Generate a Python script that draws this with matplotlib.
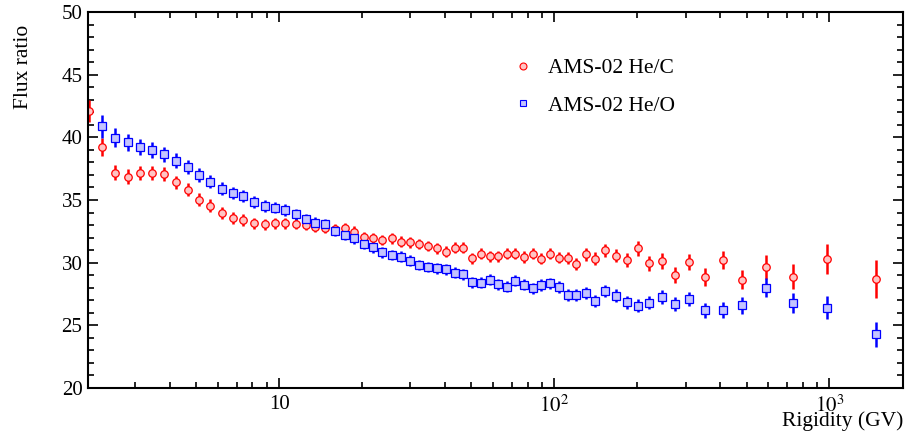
import matplotlib
matplotlib.use("Agg")
import matplotlib.pyplot as plt
from matplotlib.lines import Line2D
from matplotlib.ticker import LogLocator, MultipleLocator, NullFormatter

plt.rcParams["font.family"] = ["Liberation Serif", "DejaVu Serif"]
plt.rcParams["mathtext.fontset"] = "stix"

# rigidity bin centres (GV)
rigidity = [
    2.03, 2.27, 2.53, 2.82, 3.13, 3.46, 3.83, 4.22, 4.65, 5.12,
    5.63, 6.18, 6.77, 7.42, 8.11, 8.86, 9.67, 10.54, 11.49, 12.49,
    13.54, 14.69, 15.94, 17.29, 18.73, 20.28, 21.93, 23.73, 25.68, 27.73,
    29.93, 32.28, 34.78, 37.47, 40.37, 43.47, 46.77, 50.32, 54.12, 58.16,
    62.51, 67.21, 72.25, 77.65, 83.45, 89.69, 96.44, 103.9, 111.9, 120.4,
    129.9, 140.9, 153.4, 167.3, 183.3, 201.3, 221.7, 245.7, 274.5, 309.9,
    353.7, 408.8, 481.2, 586.0, 734.0, 981.0, 1471.0,
]

he_c = [
    42.10, 39.25, 37.18, 36.86, 37.15, 37.18, 37.10, 36.41, 35.82, 35.02,
    34.55, 33.99, 33.56, 33.40, 33.14, 33.06, 33.14, 33.14, 33.11, 33.01,
    32.87, 32.79, 32.66, 32.74, 32.47, 32.05, 31.94, 31.81, 31.94, 31.67,
    31.62, 31.49, 31.33, 31.15, 30.88, 31.20, 31.20, 30.35, 30.72, 30.51,
    30.51, 30.72, 30.72, 30.45, 30.72, 30.32, 30.72, 30.40, 30.40, 29.87,
    30.66, 30.32, 30.98, 30.56, 30.21, 31.14, 29.95, 30.13, 29.04, 30.05,
    28.86, 30.24, 28.62, 29.65, 28.86, 30.29, 28.70,
]
he_c_err = [
    0.85, 0.70, 0.62, 0.60, 0.58, 0.56, 0.55, 0.53, 0.52, 0.50,
    0.50, 0.48, 0.47, 0.46, 0.45, 0.45, 0.44, 0.44, 0.44, 0.44,
    0.44, 0.43, 0.43, 0.43, 0.43, 0.43, 0.43, 0.43, 0.43, 0.43,
    0.43, 0.43, 0.43, 0.43, 0.43, 0.43, 0.43, 0.43, 0.44, 0.44,
    0.44, 0.44, 0.44, 0.45, 0.45, 0.45, 0.46, 0.46, 0.47, 0.48,
    0.49, 0.50, 0.52, 0.53, 0.55, 0.57, 0.60, 0.62, 0.63, 0.66,
    0.69, 0.72, 0.76, 0.95, 1.00, 1.22, 1.52,
]

# He/O starts one bin higher
rigidity_o = rigidity[1:]
he_o = [
    40.88, 39.97, 39.60, 39.25, 39.01, 38.65, 38.14, 37.63, 37.00, 36.46,
    35.90, 35.53, 35.34, 34.86, 34.52, 34.39, 34.20, 33.86, 33.48, 33.19,
    33.06, 32.53, 32.21, 31.94, 31.49, 31.23, 30.83, 30.61, 30.48, 30.16,
    29.81, 29.65, 29.55, 29.47, 29.20, 29.07, 28.43, 28.40, 28.64, 28.27,
    28.06, 28.56, 28.22, 27.96, 28.22, 28.35, 28.06, 27.42, 27.42, 27.60,
    26.94, 27.74, 27.37, 26.84, 26.57, 26.81, 27.23, 26.68, 27.10, 26.20,
    26.25, 26.60, 28.00, 26.76, 26.41, 24.28,
]
he_o_err = [
    0.90, 0.76, 0.70, 0.65, 0.62, 0.60, 0.58, 0.56, 0.54, 0.52,
    0.50, 0.49, 0.48, 0.47, 0.46, 0.45, 0.45, 0.44, 0.44, 0.44,
    0.44, 0.43, 0.43, 0.43, 0.43, 0.43, 0.43, 0.43, 0.43, 0.43,
    0.43, 0.43, 0.43, 0.43, 0.43, 0.43, 0.43, 0.43, 0.43, 0.44,
    0.44, 0.44, 0.44, 0.44, 0.45, 0.45, 0.45, 0.46, 0.46, 0.47,
    0.48, 0.49, 0.50, 0.51, 0.52, 0.54, 0.55, 0.57, 0.58, 0.60,
    0.63, 0.66, 0.76, 0.80, 0.90, 0.98,
]

red_face = "#ffc4c4"
blue_face = "#c4c4ff"

fig = plt.figure(figsize=(9.07, 4.34), dpi=100)
ax = fig.add_axes([88 / 907, 1 - 388 / 434, 815 / 907, 376 / 434])

ax.errorbar(rigidity, he_c, yerr=he_c_err, fmt="o", ms=5.4, mfc=red_face,
            mec="red", mew=0.9, ecolor="red", elinewidth=1.8, capsize=0)
ax.errorbar(rigidity_o, he_o, yerr=he_o_err, fmt="s", ms=5.4, mfc=blue_face,
            mec="blue", mew=0.9, ecolor="blue", elinewidth=1.8, capsize=0)

ax.set_xscale("log")
ax.set_xlim(2.02, 1850)
ax.set_ylim(20, 50)

ax.set_xticks([10, 100, 1000])
ax.set_xticklabels(["10", r"$10^{2}$", r"$10^{3}$"])
ax.xaxis.set_minor_locator(LogLocator(base=10, subs=range(2, 10)))
ax.xaxis.set_minor_formatter(NullFormatter())
ax.yaxis.set_major_locator(MultipleLocator(5))
ax.yaxis.set_minor_locator(MultipleLocator(1))

ax.tick_params(which="both", direction="in", top=True, right=True,
               width=1.2, labelsize=15)
ax.tick_params(which="major", length=7.5)
ax.tick_params(which="minor", length=4)
ax.tick_params(axis="x", pad=5)
ax.tick_params(axis="y", pad=4)
for sp in ax.spines.values():
    sp.set_linewidth(1.5)

ax.set_ylabel("Flux ratio", fontsize=15.5, loc="top")
ax.yaxis.set_label_coords(-0.068, 0.965)
ax.set_xlabel("Rigidity (GV)", fontsize=15.5, loc="right")
ax.xaxis.set_label_coords(1.0, -0.062)

handles = [
    Line2D([], [], ls="none", marker="o", ms=5, mfc=red_face, mec="red", mew=0.8),
    Line2D([], [], ls="none", marker="s", ms=5, mfc=blue_face, mec="blue", mew=0.8),
]
ax.legend(handles, ["AMS-02 He/C", "AMS-02 He/O"], loc="upper left",
          bbox_to_anchor=(0.52, 0.877), frameon=False, fontsize=15.5,
          handlelength=1.0, handletextpad=0.7, labelspacing=0.8,
          borderpad=0, borderaxespad=0)

fig.savefig("out.png", dpi=100)
